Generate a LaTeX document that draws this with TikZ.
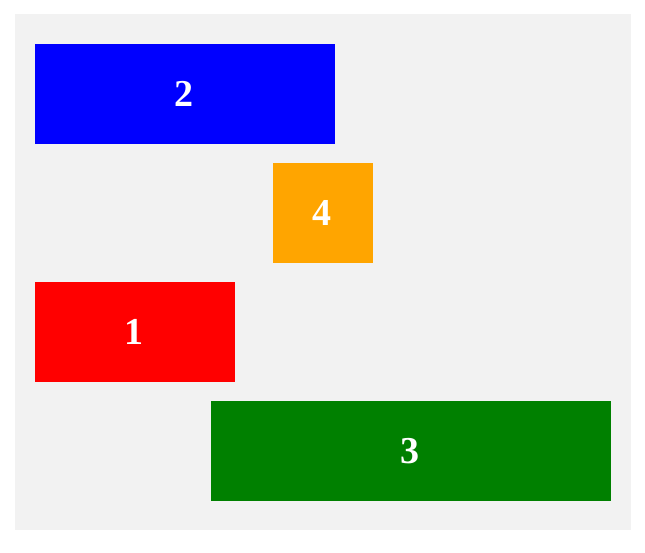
\documentclass[tikz,border=0pt]{standalone}
\usepackage{fontspec}
\setmainfont{Liberation Serif}
\definecolor{bggray}{HTML}{F2F2F2}
\definecolor{orangeb}{HTML}{FFA500}
\definecolor{greenb}{HTML}{008000}
\begin{document}
\begin{tikzpicture}[x=1pt,y=-1pt,
  bar/.style={draw=none,inner sep=0pt,outer sep=0pt,text=white,
    font=\fontsize{38}{38}\selectfont\bfseries}]
\useasboundingbox (0,0) rectangle (645,552);
\fill[white] (0,0) rectangle (645,552);
\fill[bggray] (15,14) rectangle (631,530);
\fill[blue] (35,44) rectangle (335,144);
\node[bar] (n2) at (184,94) {2};
\fill[orangeb] (273,163) rectangle (373,263);
\node[bar] (n4) at (322,213) {4};
\fill[red] (35,282) rectangle (235,382);
\node[bar] (n1) at (134,332) {1};
\fill[greenb] (211,401) rectangle (611,501);
\node[bar] (n3) at (410,451) {3};
\end{tikzpicture}
\end{document}
